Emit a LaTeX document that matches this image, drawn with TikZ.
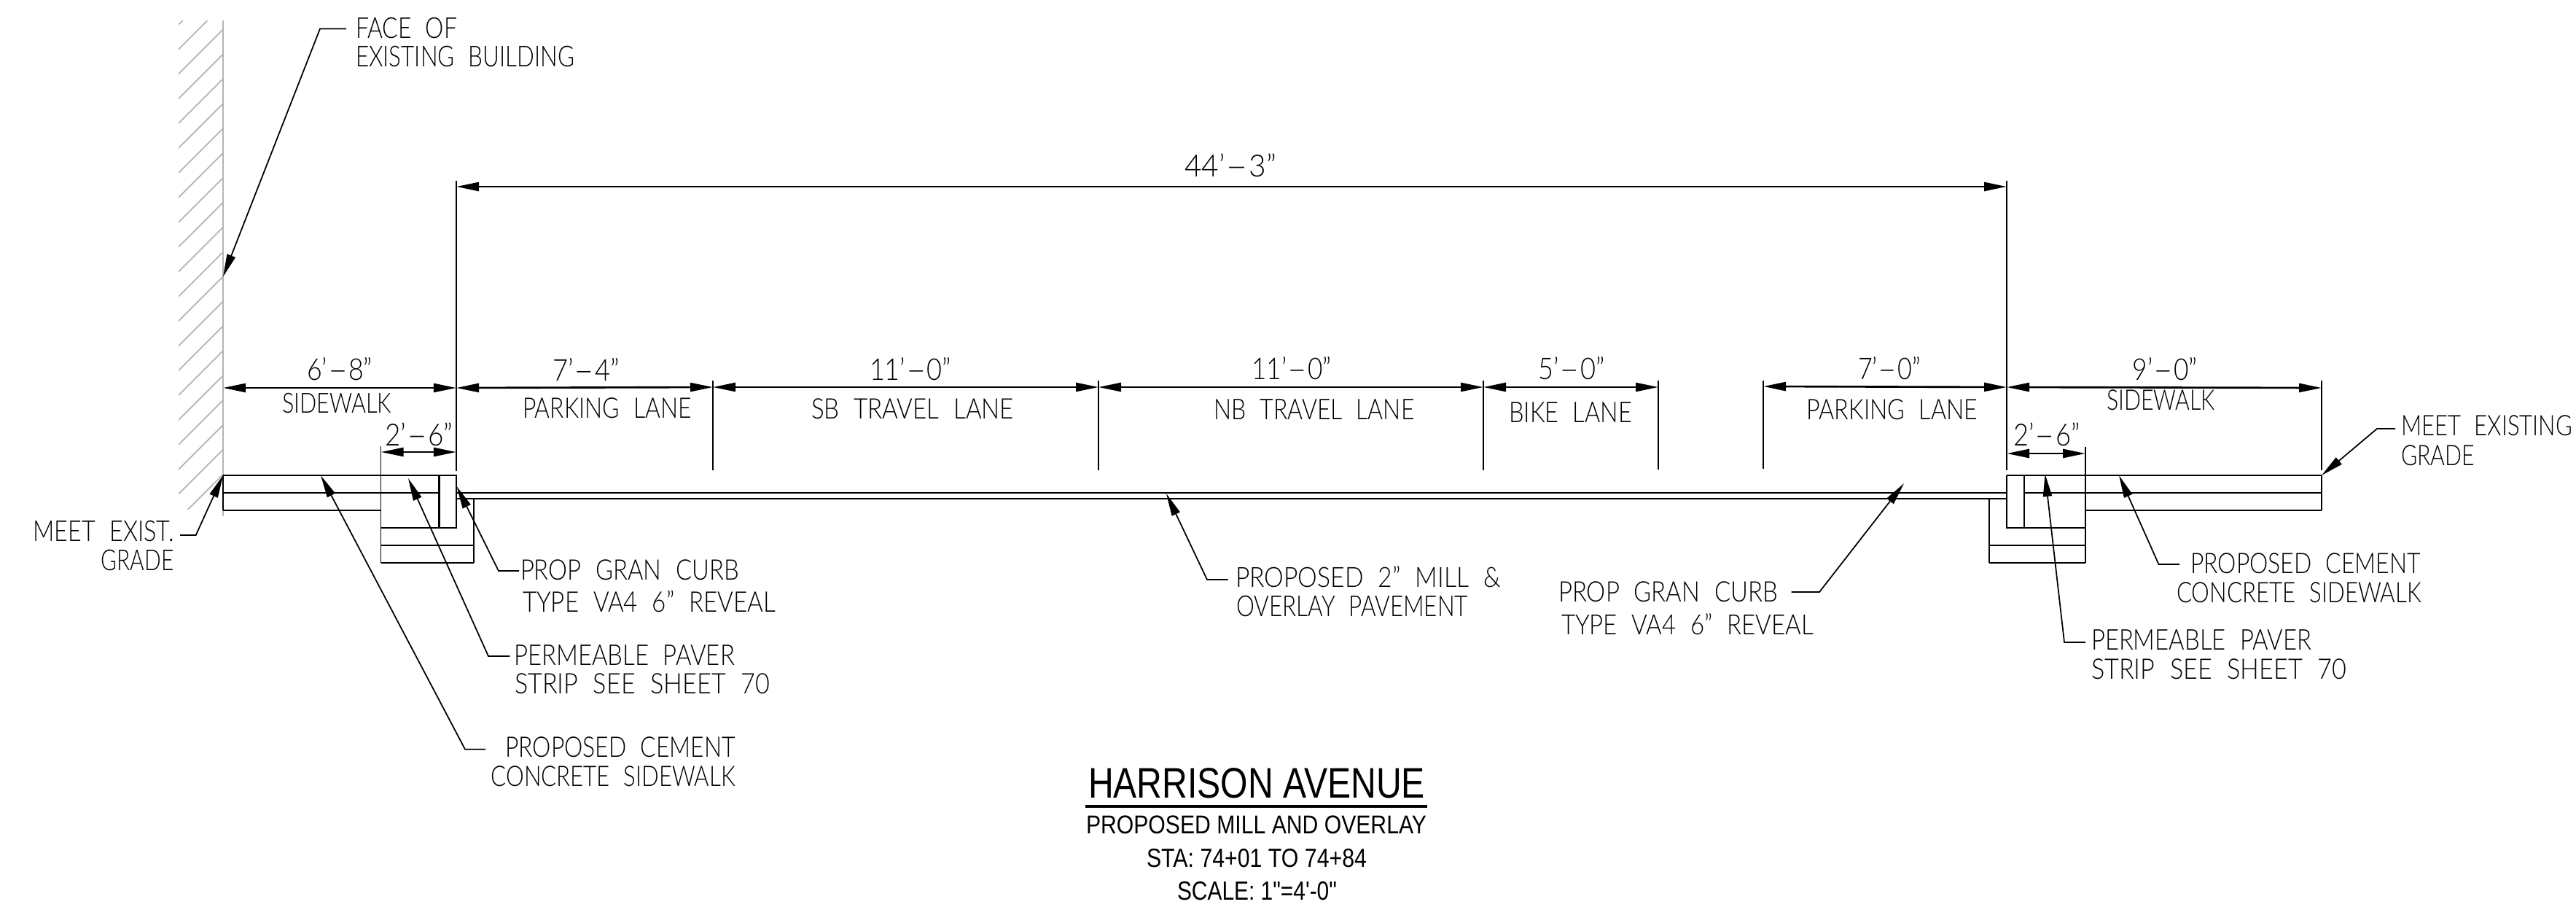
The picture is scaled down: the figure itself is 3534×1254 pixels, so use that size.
\documentclass[tikz,border=0pt]{standalone}
\usepackage{fontspec}
\usetikzlibrary{arrows.meta}
\newfontfamily\cadf[WordSpace=2.2]{Lato Light}
\newfontfamily\titf{Liberation Sans}
\newdimen\pxu \pxu=0.01cm
\newcommand{\cadt}[3]{\resizebox{#1\pxu}{1.09\dimexpr#2\pxu\relax}{\cadf #3}}
\newcommand{\tit}[3]{\resizebox{#1\pxu}{1.05\dimexpr#2\pxu\relax}{\titf #3}}
\newcommand{\dsh}{\scalebox{2.2}[1]{-}}
\definecolor{wallgray}{HTML}{B4B4B4}
\tikzset{
  lbl/.style={inner sep=0pt,outer sep=0pt,anchor=south west},
  lblr/.style={inner sep=0pt,outer sep=0pt,anchor=south east},
  lblc/.style={inner sep=0pt,outer sep=0pt,anchor=south},
  thin line/.style={line width=.42pt,black},
  struct/.style={line width=.8pt,black},
  wall/.style={line width=.5pt,wallgray},
  dimline/.style={line width=.75pt,black,{Triangle[length=3.1mm,width=1.2mm]}-{Triangle[length=3.1mm,width=1.2mm]}},
  leader/.style={line width=.5pt,black,-{Triangle[length=3.1mm,width=1.2mm]},line join=miter},
}
\begin{document}
\begin{tikzpicture}[x=0.01cm,y=-0.01cm]
\useasboundingbox[fill=white] (0,0) rectangle (3534,1254);

% wall hatch
\begin{scope}
\clip (245,28) rectangle (306,698);
\foreach \n in {0,...,20}{
  \pgfmathsetmacro{\ya}{278.6+33.9*\n-245}
  \pgfmathsetmacro{\yb}{278.6+33.9*\n-306}
  \draw[wall] (245,\ya) -- (306,\yb);
}
\end{scope}
\coordinate (wallT) at (306,28);
\coordinate (wallB) at (306,708);
\draw[wall] (wallT) -- (wallB);

% key x positions
\coordinate (swT) at (306,652);
\coordinate (swB) at (306,700);
\coordinate (swM) at (306,676);
\coordinate (lkT) at (522.6,645);
\coordinate (lkB) at (522.6,772);
\coordinate (lc1) at (602.6,652);
\coordinate (lc2) at (626,652);
\coordinate (rc1) at (2753,652);
\coordinate (rc2) at (2777,652);
\coordinate (rkT) at (2861,645);
\coordinate (rkB) at (2861,772);
\coordinate (rE) at (3185,652);

% left structure
\draw[struct] (swT) -- (lc2);
\draw[struct] (swM) -- (602.6,676);
\draw[struct] (swB) -- (522.6,700);
\draw[thin line] (swT) -- (swB);
\draw[thin line] (lkT) -- (lkB);
\draw[struct] (lc1) rectangle (626,724);
\draw[struct] (522.6,724) -- (626,724);
\draw[struct] (522.6,748) -- (650,748);
\draw[struct] (lkB) -- (650,772);
\draw[thin line] (650,684) -- (650,772);

% pavement
\draw[struct] (626,676) -- (2753,676);
\draw[struct] (626,684) -- (2753,684);

% right structure
\draw[struct] (rc1) -- (rE);
\draw[struct] (2777,676) -- (3185,676);
\draw[struct] (2861,700) -- (3185,700);
\draw[struct] (rc1) -- (2753,724) -- (2777,724) -- (rc2);
\draw[thin line] (rkT) -- (rkB);
\draw[thin line] (rE) -- (3185,700);
\draw[struct] (2753,724) -- (2861,724);
\draw[struct] (2729,748) -- (2861,748);
\draw[struct] (2729,772) -- (rkB);
\draw[thin line] (2729,684) -- (2729,772);

% extension lines
\coordinate (e1t) at (626,248);   \coordinate (e1b) at (626,646);
\coordinate (e2t) at (2753,248);  \coordinate (e2b) at (2753,645);
\coordinate (e3t) at (978,522);   \coordinate (e3b) at (978,645);
\coordinate (e4t) at (1507,522);  \coordinate (e4b) at (1507,645);
\coordinate (e5t) at (2035,522);  \coordinate (e5b) at (2035,645);
\coordinate (e6t) at (2275,522);  \coordinate (e6b) at (2275,644);
\coordinate (e7t) at (2419,522);  \coordinate (e7b) at (2419,643);
\coordinate (e8t) at (3185,522);  \coordinate (e8b) at (3185,645);
\coordinate (e9t) at (522.6,612); \coordinate (e10t) at (2861,613);
\foreach \k in {1,...,8}{\draw[thin line] (e\k t) -- (e\k b);}
\draw[thin line] (e9t) -- (lkT);
\draw[thin line] (e10t) -- (rkT);

% dimension lines
\coordinate (d0a) at (626,256);  \coordinate (d0b) at (2753,256);
\draw[dimline] (d0a) -- (d0b);
\coordinate (d1) at (306,532);  \coordinate (d2) at (626,532);
\coordinate (d3) at (978,531);  \coordinate (d4) at (1507,531);
\coordinate (d5) at (2035,531); \coordinate (d6) at (2275,531);
\coordinate (d7) at (2419,530); \coordinate (d8) at (2753,531);
\coordinate (d9) at (3185,532);
\draw[dimline] (d1) -- (d2);
\draw[dimline] (d2) -- (d3);
\draw[dimline] (d3) -- (d4);
\draw[dimline] (d4) -- (d5);
\draw[dimline] (d5) -- (d6);
\draw[dimline] (d7) -- (d8);
\draw[dimline] (d8) -- (d9);
\coordinate (d10) at (522.6,620); \coordinate (d11) at (626,620);
\draw[dimline] (d10) -- (d11);
\coordinate (d12) at (2753,622); \coordinate (d13) at (2861,622);
\draw[dimline] (d12) -- (d13);

% dimension texts
\node[lblc] (t44) at (1688,243) {\cadt{126}{29}{44’\dsh3”}};
\node[lblc] (t68) at (466,522) {\cadt{90}{28.5}{6’\dsh8”}};
\node[lblc] (t74) at (804,522) {\cadt{92}{28.5}{7’\dsh4”}};
\node[lblc] (t110a) at (1249,522) {\cadt{112}{28.5}{11’\dsh0”}};
\node[lblc] (t110b) at (1772,521) {\cadt{109}{28.5}{11’\dsh0”}};
\node[lblc] (t50) at (2156,521) {\cadt{91}{28.5}{5’\dsh0”}};
\node[lblc] (t70) at (2592,521) {\cadt{86}{28.5}{7’\dsh0”}};
\node[lblc] (t90) at (2970,522) {\cadt{89}{28.5}{9’\dsh0”}};
\node[lblc] (t26a) at (575,612) {\cadt{93}{29}{2’\dsh6”}};
\node[lblc] (t26b) at (2808,612) {\cadt{91}{29}{2’\dsh6”}};

% lane labels
\node[lbl] (l1) at (387,567) {\cadt{150}{25}{SIDEWALK}};
\node[lbl] (l2) at (717,574) {\cadt{232}{25.5}{PARKING LANE}};
\node[lbl] (l3) at (1113,575) {\cadt{278}{25.5}{SB TRAVEL LANE}};
\node[lbl] (l4) at (1665.5,575) {\cadt{275}{25.5}{NB TRAVEL LANE}};
\node[lbl] (l5) at (2070,579) {\cadt{169}{25.5}{BIKE LANE}};
\node[lbl] (l6) at (2478.6,575.5) {\cadt{235}{25.5}{PARKING LANE}};
\node[lbl] (l7) at (2890,563) {\cadt{149}{25.5}{SIDEWALK}};

% notes
\node[lbl] (n1a) at (488,52.6) {\cadt{139}{26}{FACE OF}};
\node[lbl] (n1b) at (488,92) {\cadt{300}{26}{EXISTING BUILDING}};
\node[lbl] (n2a) at (45.6,742.7) {\cadt{193}{26}{MEET EXIST.}};
\node[lblr] (n2b) at (238.5,782.7) {\cadt{100}{26}{GRADE}};
\node[lbl] (n3a) at (714,796) {\cadt{300}{25.5}{PROP GRAN CURB}};
\node[lbl] (n3b) at (717,840) {\cadt{347}{27}{TYPE VA4 6” REVEAL}};
\node[lbl] (n4a) at (705,912) {\cadt{303}{25.5}{PERMEABLE PAVER}};
\node[lbl] (n4b) at (706,952) {\cadt{350}{25.5}{STRIP SEE SHEET 70}};
\node[lbl] (n5a) at (693,1039) {\cadt{316}{25.5}{PROPOSED CEMENT}};
\node[lbl] (n5b) at (673.5,1079) {\cadt{335.5}{25.5}{CONCRETE SIDEWALK}};
\node[lbl] (n6a) at (1695,806) {\cadt{364}{26.5}{PROPOSED 2” MILL \&}};
\node[lbl] (n6b) at (1696,846) {\cadt{318}{26}{OVERLAY PAVEMENT}};
\node[lbl] (n7a) at (2138,826) {\cadt{301}{25.5}{PROP GRAN CURB}};
\node[lbl] (n7b) at (2142,871) {\cadt{346}{26.5}{TYPE VA4 6” REVEAL}};
\node[lbl] (n8a) at (3294,598) {\cadt{235}{25.5}{MEET EXISTING}};
\node[lbl] (n8b) at (3294,639) {\cadt{101}{25.5}{GRADE}};
\node[lbl] (n9a) at (3005,787) {\cadt{316}{25.5}{PROPOSED CEMENT}};
\node[lbl] (n9b) at (2986,827) {\cadt{336}{25.5}{CONCRETE SIDEWALK}};
\node[lbl] (n10a) at (2869,891) {\cadt{302}{25.5}{PERMEABLE PAVER}};
\node[lbl] (n10b) at (2869,932) {\cadt{350}{25.5}{STRIP SEE SHEET 70}};

% leaders
\coordinate (a1) at (475,39.5); \coordinate (b1) at (439,39.5); \coordinate (c1) at (306,379.6);
\draw[leader] (a1) -- (b1) -- (c1);
\coordinate (a2) at (247,734); \coordinate (b2) at (268.7,734);
\draw[leader] (a2) -- (b2) -- (swT);
\coordinate (a3) at (712,783); \coordinate (b3) at (684,783); \coordinate (c3) at (626.5,667);
\draw[leader] (a3) -- (b3) -- (c3);
\coordinate (a4) at (699.4,900); \coordinate (b4) at (670,900); \coordinate (c4) at (560,656);
\draw[leader] (a4) -- (b4) -- (c4);
\coordinate (a5) at (666,1027.7); \coordinate (b5) at (638,1027.7); \coordinate (c5) at (440,652);
\draw[leader] (a5) -- (b5) -- (c5);
\coordinate (a6) at (1684.5,795); \coordinate (b6) at (1656,795); \coordinate (c6) at (1600,677);
\draw[leader] (a6) -- (b6) -- (c6);
\coordinate (a7) at (2457.6,812); \coordinate (b7) at (2496,812); \coordinate (c7) at (2612,663);
\draw[leader] (a7) -- (b7) -- (c7);
\coordinate (a8) at (3286,588); \coordinate (b8) at (3261,588);
\draw[leader] (a8) -- (b8) -- (rE);
\coordinate (a9) at (2990,774); \coordinate (b9) at (2961.5,774); \coordinate (c9) at (2907,652);
\draw[leader] (a9) -- (b9) -- (c9);
\coordinate (a10) at (2861,881); \coordinate (b10) at (2832,881); \coordinate (c10) at (2805.5,650);
\draw[leader] (a10) -- (b10) -- (c10);

% title block
\node[lbl] (ti1) at (1493,1095) {\tit{462}{39}{HARRISON AVENUE}};
\coordinate (ua) at (1489,1106); \coordinate (ub) at (1958,1106);
\draw[line width=1.1pt] (ua) -- (ub);
\node[lbl] (ti2) at (1490,1144) {\tit{467}{23.5}{PROPOSED MILL AND OVERLAY}};
\node[lbl] (ti3) at (1573,1190) {\tit{302}{24}{STA: 74+01 TO 74+84}};
\node[lbl] (ti4) at (1615,1235) {\tit{219}{24}{SCALE: 1"=4'-0"}};
\end{tikzpicture}
\end{document}
